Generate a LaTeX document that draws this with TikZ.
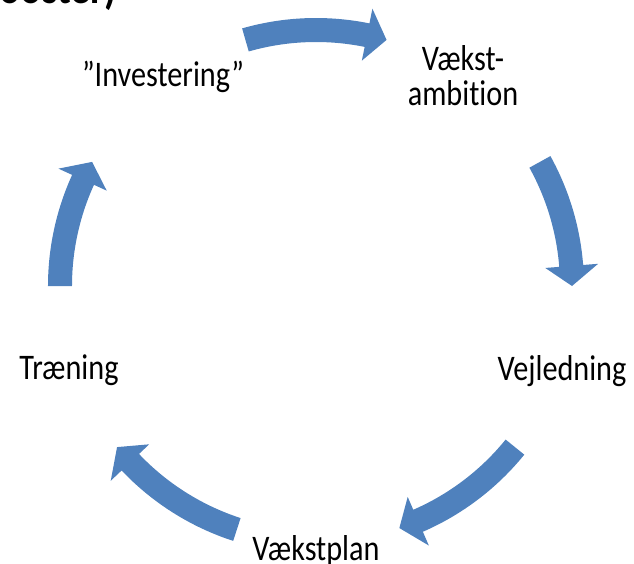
\documentclass[tikz,border=0pt]{standalone}
\usepackage{fontspec}
\setmainfont[FakeStretch=0.84,Ligatures=NoCommon]{Carlito}
\usetikzlibrary{positioning}
\definecolor{cycblue}{RGB}{79,129,189}

\begin{document}
\begin{tikzpicture}[
  x=1pt,y=1pt,
  cyclbl/.style={font=\fontsize{36}{35}\selectfont,align=center,inner sep=0pt},
  ttl/.style={font=\fontsize{47}{50}\selectfont\bfseries,inner sep=0pt},
  cycarr/.style={fill=cycblue}
]
\useasboundingbox (-316,-277) rectangle (318,286);

% title, cut off by the top edge
\begin{scope}
  \clip (-316,-277) rectangle (318,286);
  \node[ttl,anchor=base east] (title) at (-199,282) {booster)};
\end{scope}

% the five steps of the cycle
\node[cyclbl] (invest)     at (-153,209) {”Investering”};
\node[cyclbl] (ambition)   at (147,210)  {Vækst-\\ambition};
\node[cyclbl] (vejledning) at (246,-85)  {Vejledning};
\node[cyclbl] (plan)       at (0,-265)   {Vækstplan};
\node[cyclbl] (traening)   at (-247,-84) {Træning};

% curved block arrows (tail angle / tip angle)
\foreach \a/\b in {106/74, 29/0, -39/-71, 252/219, 180/151} {
  \fill[cycarr] (\a:268) arc[start angle=\a, end angle=\b+4.5, radius=268]
    -- ({\b+4.5}:283) -- (\b:256) -- ({\b+4.5}:230) -- ({\b+4.5}:244)
    arc[start angle=\b+4.5, end angle=\a, radius=244] -- cycle;
}
\end{tikzpicture}
\end{document}
